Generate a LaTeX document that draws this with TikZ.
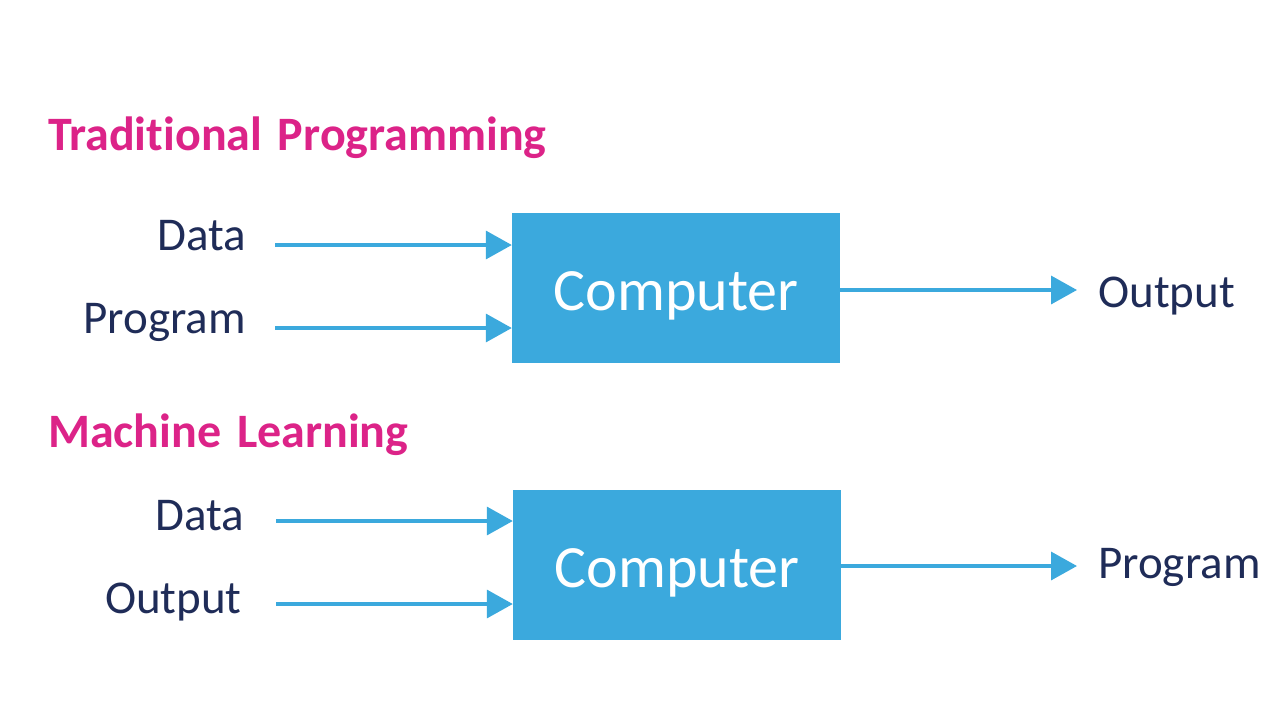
\documentclass[tikz,border=0pt]{standalone}
\usepackage{fontspec}
\setmainfont[RawFeature=-liga]{Carlito}
\usetikzlibrary{arrows.meta}
\definecolor{boxblue}{HTML}{3BA9DD}
\definecolor{navy}{HTML}{1F2C58}
\definecolor{magen}{HTML}{DC2388}
\tikzset{
  title/.style={anchor=base west, inner sep=0pt, text=magen, font=\fontsize{48}{54}\selectfont\bfseries},
  lbl/.style={inner sep=0pt, text=navy, font=\fontsize{47}{52}\selectfont},
  comp/.style={fill=boxblue, draw=none, inner sep=0pt},
  comptext/.style={anchor=base, inner sep=0pt, text=white, font=\fontsize{60}{66}\selectfont},
  flow/.style={draw=boxblue, line width=3.5pt, -{Triangle[length=26pt,width=28pt]}}
}
\begin{document}
\begin{tikzpicture}[x=1pt,y=-1pt]
\useasboundingbox[fill=white] (0,0) rectangle (1280,721);
% Traditional Programming
\node[title] (t1) at (48,150) {Traditional\hspace{0.1em} Programming};
\node[comp, minimum width=328pt, minimum height=150pt] (box1) at (676,288) {};
\node[comptext] (c1) at (676,310) {Computer};
\node[lbl, anchor=base east] (d1) at (246,250) {Data};
\node[lbl, anchor=base east] (p1) at (246,333) {Program};
\node[lbl, anchor=base west] (o1) at (1098,307) {Output};
\coordinate (d1s) at (275,245);
\coordinate (p1s) at (275,328);
\coordinate (o1e) at (1077,290);
\draw[flow] (d1s) -- (d1s -| box1.west);
\draw[flow] (p1s) -- (p1s -| box1.west);
\draw[flow] (box1.east |- o1e) -- (o1e);
% Machine Learning
\node[title] (t2) at (48,447) {Machine\hspace{0.1em} Learning};
\node[comp, minimum width=328pt, minimum height=150pt] (box2) at (677,565) {};
\node[comptext] (c2) at (677,587) {Computer};
\node[lbl, anchor=base east] (d2) at (244,530) {Data};
\node[lbl, anchor=base east] (o2) at (242,613) {Output};
\node[lbl, anchor=base west] (p2) at (1098,578) {Program};
\coordinate (d2s) at (276,521);
\coordinate (o2s) at (276,604);
\coordinate (p2e) at (1077,566);
\draw[flow] (d2s) -- (d2s -| box2.west);
\draw[flow] (o2s) -- (o2s -| box2.west);
\draw[flow] (box2.east |- p2e) -- (p2e);
\end{tikzpicture}
\end{document}
